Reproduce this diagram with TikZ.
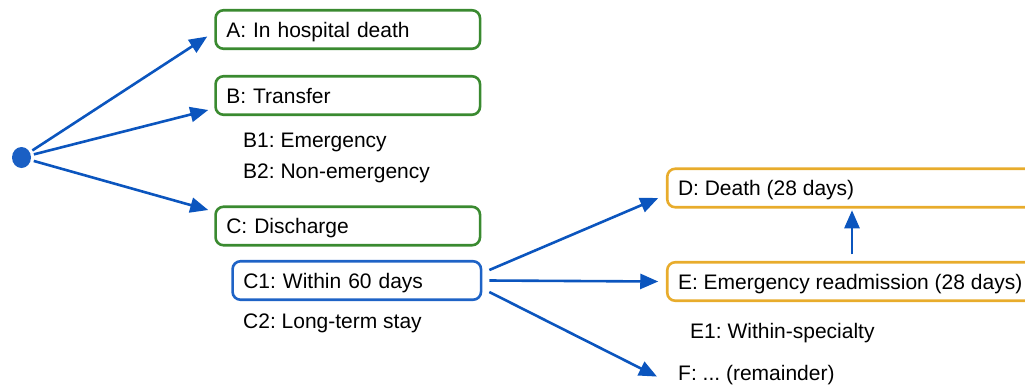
\documentclass[tikz,border=0pt]{standalone}
\usepackage{fontspec}
\setmainfont{Liberation Sans}
\usetikzlibrary{arrows.meta,calc,shapes.geometric}
\definecolor{arrblue}{HTML}{0B55BE}
\definecolor{dotblue}{HTML}{1A5FC4}
\definecolor{boxgreen}{HTML}{3A8A30}
\definecolor{boxorange}{HTML}{E8AC2C}
\definecolor{boxblue}{HTML}{1E63C6}
\tikzset{
  box/.style={draw, rounded corners=8pt, line width=2.6pt, minimum height=38.5pt,
    inner xsep=10.75pt, inner ysep=0pt, align=left, anchor=west,
    text height=15pt, text depth=0pt, font=\fontsize{21pt}{24pt}\selectfont},
  gbox/.style={box, draw=boxgreen, text width=243pt},
  bbox/.style={box, draw=boxblue, text width=227pt},
  otext/.style={anchor=west, minimum height=38.5pt, inner xsep=10.75pt, inner ysep=0pt,
    outer sep=0pt, text height=15pt, text depth=0pt, font=\fontsize{21pt}{24pt}\selectfont},
  oframe/.style={draw=boxorange, rounded corners=8pt, line width=2.6pt},
  lbl/.style={anchor=base west, inner sep=0pt, font=\fontsize{21pt}{24pt}\selectfont},
  arr/.style={draw=arrblue, line width=2.6pt, -{Triangle[length=18pt,width=15pt]}}
}
\frenchspacing
\begin{document}
\begin{tikzpicture}[x=1pt,y=-1pt]
\frenchspacing
\useasboundingbox (0,0) rectangle (1025,384);
\clip (0,0) rectangle (1025,384);
\node[fill=dotblue, ellipse, minimum width=19pt, minimum height=21pt, inner sep=0pt] (dot) at (21.5,157.5) {};
\node[gbox] (A) at (214.25,29.5) {A: In hospital death};
\node[gbox] (B) at (214.25,95.5) {B: Transfer};
\node[lbl] (B1) at (243,147) {B1: Emergency};
\node[lbl] (B2) at (243,178) {B2: Non-emergency};
\node[gbox] (C) at (214.25,226) {C: Discharge};
\node[bbox] (C1) at (231.25,280.5) {C1: Within 60 days};
\node[lbl] (C2) at (243,328) {C2: Long-term stay};
\node[otext] (D) at (667.25,188) {D: Death (28 days)};
\draw[oframe] (D.north west) rectangle (1100,0 |- D.south);
\node[otext] (E) at (667.25,281.5) {E: Emergency readmission (28 days)};
\draw[oframe] (E.north west) rectangle (1100,0 |- E.south);
\node[lbl] (E1) at (690,338) {E1: Within-specialty};
\node[lbl] (F) at (678,380) {F: ... (remainder)};
\draw[arr, shorten <=3pt] (dot) -- ([xshift=-7pt,yshift=-7pt]A.west);
\draw[arr, shorten <=3pt] (dot) -- ([xshift=-6pt,yshift=-14.5pt]B.west);
\draw[arr, shorten <=3pt] (dot) -- ([xshift=-6pt,yshift=16pt]C.west);
\draw[arr] ([xshift=7pt,yshift=10.5pt]C1.east) -- ([xshift=-9pt,yshift=-10pt]D.west);
\draw[arr] ([xshift=7pt]C1.east) -- ([xshift=-9pt]E.west);
\draw[arr] ([xshift=7pt,yshift=-11.5pt]C1.east) -- ([xshift=-21pt,yshift=-2pt]F.west);
\coordinate (upx) at (852,0);
\draw[arr, shorten <=8pt, shorten >=3pt] (upx |- E.north) -- (upx |- D.south);
\end{tikzpicture}
\end{document}
